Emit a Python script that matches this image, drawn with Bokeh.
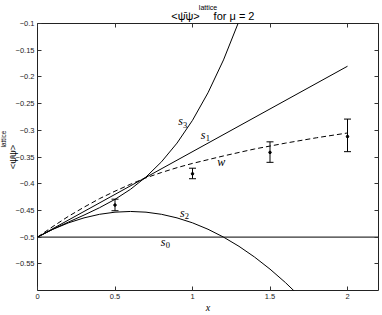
from bokeh.plotting import figure
from bokeh.models import LinearAxis, FixedTicker, Label, Whisker, TeeHead, ColumnDataSource, Title
from bokeh.embed import file_html
from bokeh.resources import INLINE

# ---- data ----
s0_x = [0.0, 2.2]
s0_y = [-0.5, -0.5]

s1_x = [0.0, 2.0]
s1_y = [-0.5, -0.18]

s2_x = [0.0, 0.1, 0.2, 0.3, 0.4, 0.5, 0.6, 0.7, 0.8, 0.9, 1.0, 1.1, 1.2,
        1.3, 1.4, 1.5, 1.6, 1.7]
s2_y = [-0.5, -0.4853, -0.4733, -0.464, -0.4573, -0.4533, -0.452, -0.4533,
        -0.4573, -0.464, -0.4733, -0.4853, -0.5, -0.5173, -0.5373, -0.56,
        -0.5853, -0.6133]

s3_x = [0.0, 0.1, 0.2, 0.3, 0.4, 0.5, 0.6, 0.7, 0.8, 0.9, 1.0, 1.1, 1.2, 1.3]
s3_y = [-0.5, -0.4851, -0.4718, -0.4588, -0.445, -0.4293, -0.4105, -0.3874,
        -0.359, -0.324, -0.2813, -0.2297, -0.1682, -0.0955]

w_x = [0.0, 0.1, 0.2, 0.3, 0.4, 0.5, 0.6, 0.7, 0.8, 0.9, 1.0, 1.2, 1.4, 1.6,
       1.8, 2.0]
w_y = [-0.5, -0.48, -0.461, -0.444, -0.428, -0.414, -0.401, -0.389, -0.379,
       -0.37, -0.362, -0.348, -0.335, -0.324, -0.314, -0.305]

lat_x = [0.5, 1.0, 1.5, 2.0]
lat_y = [-0.44, -0.3815, -0.3414, -0.3117]
lat_lo = [-0.4506, -0.3907, -0.36, -0.34]
lat_hi = [-0.429, -0.371, -0.3216, -0.279]

x_ticks = [0, 0.5, 1, 1.5, 2]
y_ticks = [-0.55, -0.5, -0.45, -0.4, -0.35, -0.3, -0.25, -0.2, -0.15, -0.1]

title_main = "<ψ̄ψ>"
title_sup = "lattice"
title_rest = "for μ = 2"
ylabel_main = "<ψ̄ψ>"
ylabel_sup = "lattice"
xlabel = "x"

SANS = "Liberation Sans"
SERIF = "Liberation Serif"

p = figure(width=382, height=315, x_range=(0, 2.2), y_range=(-0.6, -0.1),
           output_backend="svg", toolbar_location=None,
           min_border_left=37, min_border_right=4, min_border_top=23,
           min_border_bottom=22)
p.title = None
p.grid.visible = False
p.outline_line_color = "#222222"
p.outline_line_width = 1


def style_ticks(ax):
    ax.major_tick_in = 4
    ax.major_tick_out = 0
    ax.minor_tick_line_color = None
    ax.axis_line_color = None
    ax.major_tick_line_color = "#333333"


def label_only(ax):
    ax.axis_line_color = None
    ax.major_tick_line_color = None
    ax.minor_tick_line_color = None


for ax in (p.xaxis[0], p.yaxis[0]):
    style_ticks(ax)
    ax.major_label_text_font = SANS
    ax.major_label_text_font_size = "7.5px"
    ax.major_label_text_color = "#222222"
    ax.major_label_standoff = 3
p.xaxis[0].ticker = FixedTicker(ticks=x_ticks)
p.yaxis[0].ticker = FixedTicker(ticks=y_ticks)
p.xaxis[0].major_label_overrides = {0: "0", 1: "1", 2: "2"}

p.xaxis[0].axis_label = xlabel
p.xaxis[0].axis_label_text_font = SERIF
p.xaxis[0].axis_label_text_font_style = "italic"
p.xaxis[0].axis_label_text_font_size = "10px"
p.xaxis[0].axis_label_text_color = "black"
p.xaxis[0].axis_label_standoff = 0

p.yaxis[0].axis_label = ylabel_main
p.yaxis[0].axis_label_text_font = SANS
p.yaxis[0].axis_label_text_font_style = "normal"
p.yaxis[0].axis_label_text_font_size = "9.5px"
p.yaxis[0].axis_label_text_color = "black"
p.yaxis[0].axis_label_standoff = -5

# mirrored tick marks (no labels)
for loc, ticks in (("right", y_ticks), ("above", x_ticks)):
    ax = LinearAxis(ticker=FixedTicker(ticks=ticks))
    style_ticks(ax)
    ax.major_label_text_color = None
    ax.major_label_text_font_size = "1px"
    ax.major_label_standoff = -1
    p.add_layout(ax, loc)

# title line built on a label-only axis above the plot
t_main_pos = 0.955
t_rest_pos = 1.268
tax = LinearAxis(ticker=FixedTicker(ticks=[t_main_pos, t_rest_pos]),
                 major_label_overrides={t_main_pos: title_main,
                                        t_rest_pos: title_rest},
                 bounds=(0.85, 1.3072))
label_only(tax)
tax.major_label_text_font = SANS
tax.major_label_text_font_size = "11px"
tax.major_label_text_color = "black"
tax.major_label_standoff = -4
tax.axis_label = title_sup
tax.axis_label_text_font = SANS
tax.axis_label_text_font_style = "normal"
tax.axis_label_text_font_size = "7px"
tax.axis_label_text_color = "black"
tax.axis_label_standoff = -4
p.add_layout(tax, "above")

# superscript of the y label as a vertical title on the left
p.add_layout(Title(text=ylabel_sup, align="left", offset=143, standoff=-6,
                   text_font=SANS, text_font_style="normal",
                   text_font_size="6.5px", text_color="black"), "left")

lw = 1
p.line(s0_x, s0_y, line_color="black", line_width=lw)
p.line(s1_x, s1_y, line_color="black", line_width=lw)
p.line(s2_x, s2_y, line_color="black", line_width=lw)
p.line(s3_x, s3_y, line_color="black", line_width=lw)
p.line(w_x, w_y, line_color="black", line_width=lw, line_dash="5 3")

src = ColumnDataSource(dict(x=lat_x, y=lat_y, lo=lat_lo, hi=lat_hi))
wh = Whisker(source=src, base="x", lower="lo", upper="hi",
             line_color="black", line_width=1,
             lower_head=TeeHead(size=7, line_color="black", line_width=1),
             upper_head=TeeHead(size=7, line_color="black", line_width=1))
p.add_layout(wh)
p.scatter("x", "y", source=src, size=2.5, color="black")


def curve_label(x, y, main, sub):
    p.add_layout(Label(x=x, y=y, text=main, text_font=SERIF,
                       text_font_style="italic", text_font_size="12px",
                       text_color="black",
                       text_align="center", text_baseline="middle"))
    if sub is not None:
        p.add_layout(Label(x=x + 0.03, y=y - 0.006, text=sub, text_font=SERIF,
                           text_font_size="8.5px", text_color="black",
                           text_align="center", text_baseline="middle"))


curve_label(0.923, -0.2833, "s", "3")
curve_label(1.069, -0.3093, "s", "1")
curve_label(0.934, -0.4543, "s", "2")
curve_label(0.811, -0.5093, "s", "0")
curve_label(1.185, -0.3598, "w", None)

open("out.html", "w").write(file_html(p, INLINE))
